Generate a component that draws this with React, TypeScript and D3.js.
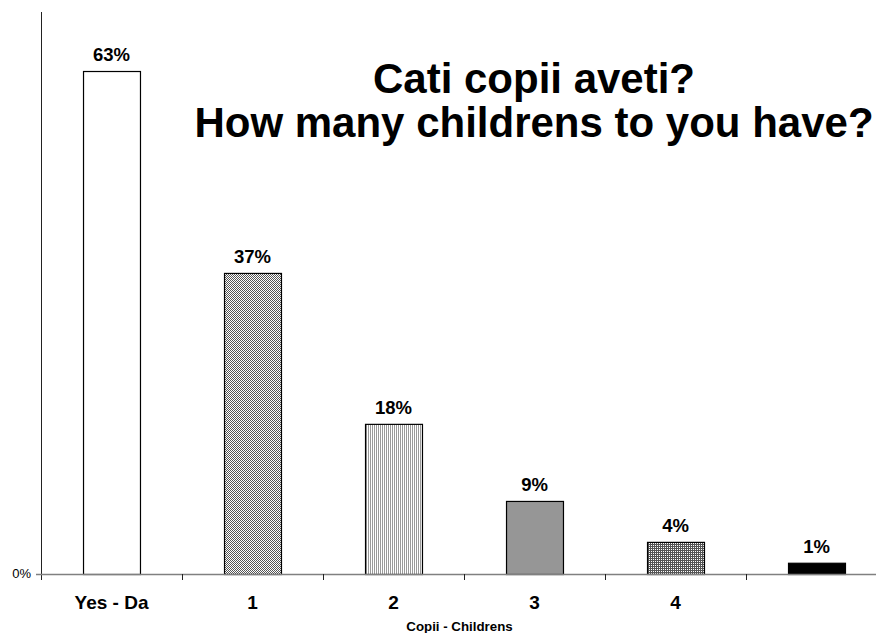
import React from "react";
import * as d3 from "d3";

const categories = ["Yes - Da", "1", "2", "3", "4", ""];
const values = [62.65, 37.5, 18.7, 9.1, 4.0, 1.4];
const valueLabels = ["63%", "37%", "18%", "9%", "4%", "1%"];
const fills = ["#ffffff", "url(#pChecker)", "url(#pVert)", "#969696", "url(#pGrid)", "#000000"];
const titleLines = ["Cati copii aveti?", "How many childrens to you have?"];
const xTitle = "Copii - Childrens";
const yTickLabel = "0%";

const W = 876, H = 633;
const left = 41, right = 887, top = 12, bottom = 574;

export default function App() {
  const x = d3.scaleBand<number>()
    .domain(categories.map((_, i) => i))
    .range([left, right])
    .paddingInner(0.596)
    .paddingOuter(0.298);
  const y = d3.scaleLinear().domain([0, 70]).range([bottom, top]);
  const step = x.step();
  const font = "Arial, 'Liberation Sans', Helvetica, sans-serif";

  return (
    <svg width={W} height={H} style={{ position: "absolute", left: 0, top: 0, background: "#fff" }} fontFamily={font}>
      <defs>
        <pattern id="pChecker" width={2} height={2} patternUnits="userSpaceOnUse">
          <rect width={2} height={2} fill="#ffffff" />
          <rect width={1} height={1} fill="#555555" />
          <rect x={1} y={1} width={1} height={1} fill="#555555" />
        </pattern>
        <pattern id="pVert" width={2} height={2} patternUnits="userSpaceOnUse">
          <rect width={2} height={2} fill="#ffffff" />
          <rect width={1} height={2} fill="#9a9a9a" />
        </pattern>
        <pattern id="pGrid" width={2} height={2} patternUnits="userSpaceOnUse">
          <rect width={2} height={2} fill="#ffffff" />
          <rect width={2} height={1} fill="#555555" />
          <rect width={1} height={2} fill="#555555" />
        </pattern>
      </defs>
      <rect width={W} height={H} fill="#fff" />
      {values.map((v, i) => (
        <rect key={i} x={x(i)! + 0.5} y={y(v) + 0.5} width={x.bandwidth()} height={y(0) - y(v)}
          fill={fills[i]} stroke="#000" strokeWidth={1.2} />
      ))}
      {/* axes */}
      <line x1={left + 0.5} x2={left + 0.5} y1={top} y2={bottom + 6} stroke="#222" strokeWidth={1} />
      <line x1={left - 5} x2={W} y1={bottom + 0.5} y2={bottom + 0.5} stroke="#808080" strokeWidth={1.5} />
      {categories.map((_, i) => (
        <line key={i} x1={left + step * (i + 1) + 0.5} x2={left + step * (i + 1) + 0.5} y1={bottom} y2={bottom + 6} stroke="#222" />
      ))}
      <text x={31} y={578} textAnchor="end" fontSize={13}>{yTickLabel}</text>
      {values.map((v, i) => (
        <text key={i} x={x(i)! + x.bandwidth() / 2} y={y(v) - 10} textAnchor="middle" fontSize={18.5} fontWeight="bold">{valueLabels[i]}</text>
      ))}
      {categories.map((c, i) => (
        <text key={i} x={x(i)! + x.bandwidth() / 2} y={609} textAnchor="middle" fontSize={19} fontWeight="bold">{c}</text>
      ))}
      <text x={459.5} y={631} textAnchor="middle" fontSize={13.3} fontWeight="bold">{xTitle}</text>
      {titleLines.map((t, i) => (
        <text key={i} x={534} y={93 + i * 44} textAnchor="middle" fontSize={42} fontWeight="bold">{t}</text>
      ))}
    </svg>
  );
}
